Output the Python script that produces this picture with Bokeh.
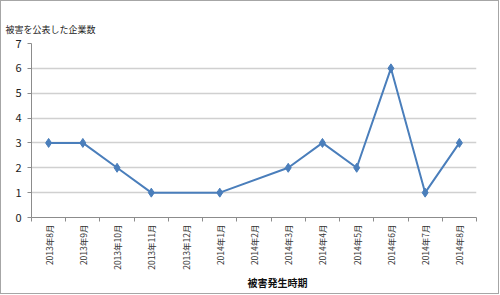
from bokeh.plotting import figure
from bokeh.models import FixedTicker, Title, ColumnDataSource
from bokeh.layouts import column
from bokeh.embed import file_html
from bokeh.resources import INLINE
import math

months = ["2013年8月", "2013年9月", "2013年10月", "2013年11月", "2013年12月",
          "2014年1月", "2014年2月", "2014年3月", "2014年4月", "2014年5月",
          "2014年6月", "2014年7月", "2014年8月"]
counts = [3, 3, 2, 1, None, 1, None, 2, 3, 2, 6, 1, 3]
y_ticks = [0, 1, 2, 3, 4, 5, 6, 7]
y_title = "被害を公表した企業数"
x_title = "被害発生時期"

FONT = "Noto Sans CJK JP"
LINE = "#4A7EBB"

n = len(months)
xs = [i for i, v in enumerate(counts) if v is not None]
ys = [v for v in counts if v is not None]
src = ColumnDataSource(dict(x=xs, y=ys))

p = figure(width=497, height=292, output_backend="svg", toolbar_location=None,
           x_range=(-0.5, n - 0.5), y_range=(0, 7),
           min_border_left=30, min_border_right=22, min_border_top=42, min_border_bottom=76)
p.outline_line_color = None
p.background_fill_color = "white"
p.border_fill_color = "white"

p.xgrid.visible = False
p.ygrid.grid_line_color = "#D0D0D0"
p.ygrid.grid_line_width = 1.5
p.ygrid.ticker = FixedTicker(ticks=y_ticks)

p.yaxis.ticker = FixedTicker(ticks=y_ticks)
p.yaxis.axis_line_color = "#8C8C8C"
p.yaxis.major_tick_line_color = "#8C8C8C"
p.yaxis.major_tick_out = 4
p.yaxis.major_tick_in = 0
p.yaxis.minor_tick_line_color = None
p.yaxis.major_label_text_font = FONT
p.yaxis.major_label_text_font_size = "11px"
p.yaxis.major_label_text_color = "#222222"
p.yaxis.major_label_standoff = 6

p.xaxis.ticker = FixedTicker(ticks=list(range(n)), minor_ticks=[i - 0.5 for i in range(n + 1)])
p.xaxis.major_label_overrides = {i: m for i, m in enumerate(months)}
p.xaxis.major_label_orientation = math.pi / 2
p.xaxis.axis_line_color = "#8C8C8C"
p.xaxis.major_tick_line_color = None
p.xaxis.minor_tick_line_color = "#8C8C8C"
p.xaxis.minor_tick_out = 4
p.xaxis.minor_tick_in = 0
p.xaxis.major_label_text_font = FONT
p.xaxis.major_label_text_font_size = "8.5px"
p.xaxis.major_label_text_color = "#333333"
p.xaxis.major_label_standoff = 1

p.line("x", "y", source=src, line_color=LINE, line_width=2)
p.scatter("x", "y", source=src, marker="diamond", size=9, fill_color=LINE, line_color=LINE)

p.add_layout(Title(text=y_title, text_font=FONT, text_font_size="9px", text_font_style="normal",
                   text_color="#222222", align="left", offset=-26, standoff=16), "above")
p.add_layout(Title(text=x_title, text_font=FONT, text_font_size="10px", text_font_style="bold",
                   text_color="#111111", align="left", offset=216, standoff=1), "below")

layout = column(p, styles={"border": "1px solid #a6a6a6", "background": "white"})

open("out.html", "w").write(file_html(layout, INLINE))
